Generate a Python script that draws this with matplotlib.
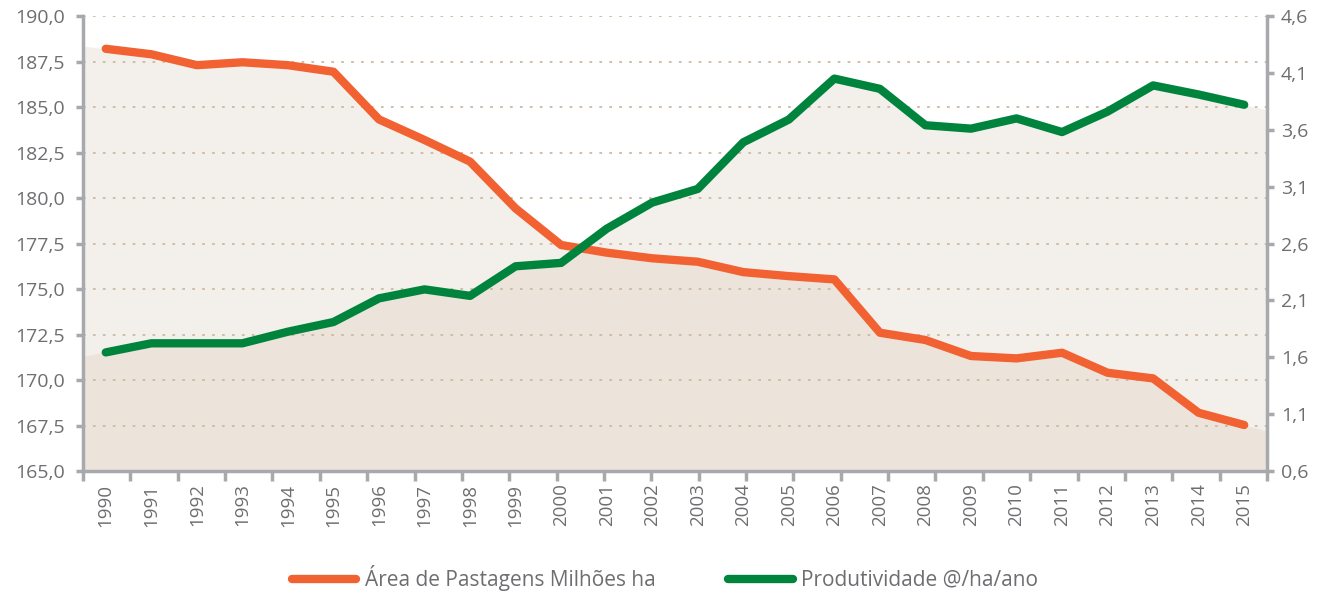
import matplotlib.pyplot as plt
import numpy as np
from matplotlib.ticker import FuncFormatter

YEARS = list(range(1990, 2016))
AREA = [188.2, 187.9, 187.3, 187.46, 187.3, 186.94, 184.32, 183.19, 182.0, 179.43,
        177.42, 177.0, 176.69, 176.5, 175.93, 175.71, 175.53, 172.6, 172.2, 171.32,
        171.19, 171.5, 170.4, 170.09, 168.2, 167.53]
PROD = [1.643, 1.723, 1.723, 1.723, 1.825, 1.91, 2.118, 2.197, 2.14, 2.40,
        2.43, 2.73, 2.96, 3.08, 3.49, 3.69, 4.05, 3.96, 3.64, 3.61,
        3.70, 3.58, 3.76, 3.99, 3.91, 3.82]
LEFT_TICKS = [165.0, 167.5, 170.0, 172.5, 175.0, 177.5, 180.0, 182.5, 185.0, 187.5, 190.0]
RIGHT_TICKS = [0.6, 1.1, 1.6, 2.1, 2.6, 3.1, 3.6, 4.1, 4.6]

ORANGE = '#f26131'
GREEN = '#00843d'
LIGHT = '#f3f0eb'
DARK = '#ece4da'
GRAY = '#a7a9ac'
TEXT = '#6d6e71'
GRID = '#cdb9a2'

plt.rcParams['font.family'] = ['Open Sans', 'DejaVu Sans']


def comma(fmt):
    return FuncFormatter(lambda v, p: fmt.format(v).replace('.', ','))


def extend(vals):
    # fill runs to the plot edges, continuing the end segments
    v = np.asarray(vals, dtype=float)
    left = v[0] - 0.5 * (v[1] - v[0])
    right = v[-1] + 0.5 * (v[-1] - v[-2])
    return np.concatenate([[left], v, [right]])


n = len(YEARS)
x = np.arange(n) + 0.5
xe = np.concatenate([[0], x, [n]])

fig = plt.figure(figsize=(13.3, 5.94), dpi=100)
ax = fig.add_axes([0.0624, 0.207, 0.8902, 0.766])
ax2 = ax.twinx()

ax.set_xlim(0, n)
ax.set_ylim(165, 190)
ax2.set_ylim(0.6, 4.6)

# fills: light under each series, darker where both overlap
ax.fill_between(xe, extend(AREA), 165, color=LIGHT, lw=0, zorder=1)
g_fill = ax.fill_between(xe, extend(PROD), 0.6, color=LIGHT, lw=0, zorder=1,
                         transform=ax2.transData)
dark = ax.fill_between(xe, extend(AREA), 165, color=DARK, lw=0, zorder=1.1)
dark.set_clip_path(g_fill.get_paths()[0], ax2.transData)
ax.set_ylim(165, 190)

for t in LEFT_TICKS[1:]:
    ax.axhline(t, color=GRID, lw=1.3, ls=(0, (1.5, 4)), zorder=1.5)

ax.plot(x, AREA, color=ORANGE, lw=6, solid_capstyle='round',
        solid_joinstyle='round', zorder=3, label='Área de Pastagens Milhões ha')
ax2.plot(x, PROD, color=GREEN, lw=6, solid_capstyle='round',
         solid_joinstyle='round', zorder=3, label='Produtividade @/ha/ano')

ax.set_yticks(LEFT_TICKS)
ax.yaxis.set_major_formatter(comma('{:.1f}'))
ax2.set_yticks(RIGHT_TICKS)
ax2.yaxis.set_major_formatter(comma('{:.1f}'))

ax.set_xticks(np.linspace(0, n, n))
ax.set_xticklabels([])
ax.set_xticks(x, minor=True)
ax.set_xticklabels([str(y) for y in YEARS], minor=True, rotation=90)

for a in (ax, ax2):
    for s in a.spines.values():
        s.set_visible(False)
ax.spines['left'].set_visible(True)
ax.spines['bottom'].set_visible(True)
ax2.spines['right'].set_visible(True)
for s in (ax.spines['left'], ax.spines['bottom'], ax2.spines['right']):
    s.set_color(GRAY)
    s.set_linewidth(2.5)

ax.tick_params(axis='y', colors=GRAY, labelcolor=TEXT, labelsize=14,
               length=5, width=2.5, pad=8)
ax2.tick_params(axis='y', colors=GRAY, labelcolor=TEXT, labelsize=14,
                length=5, width=2.5, pad=5)
ax.tick_params(axis='x', which='major', colors=GRAY, length=7, width=2.5)
ax.tick_params(axis='x', which='minor', length=0, labelcolor=TEXT,
               labelsize=13.5, pad=9)

h1, l1 = ax.get_legend_handles_labels()
h2, l2 = ax2.get_legend_handles_labels()
fig.legend(h1 + h2, l1 + l2, loc='center', bbox_to_anchor=(0.5, 0.027),
           ncol=2, frameon=False, fontsize=15, handlelength=3.1,
           columnspacing=3.5, handletextpad=0.4, labelcolor=TEXT)

fig.savefig('out.png', dpi=100)
